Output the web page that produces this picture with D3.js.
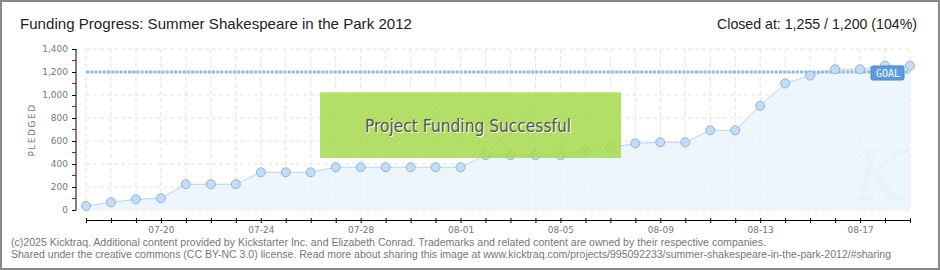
<!DOCTYPE html>
<html>
<head>
    <title>Funding Progress: Summer Shakespeare in the Park 2012</title>
    <script src="https://d3js.org/d3.v7.min.js"></script>
    <style>
        body { margin: 0; background: #fff; }
        svg { display: block; }
        .title { font-family: "Liberation Sans", Arial, sans-serif; font-size: 15px; fill: #222; }
        .axis text { font-family: "DejaVu Sans", sans-serif; font-size: 9px; fill: #777; }
        .footer { font-family: "Liberation Sans", Arial, sans-serif; font-size: 10px; fill: #777; }
        .grid line { stroke: #e2e2e2; stroke-dasharray: 4,3; }
    </style>
</head>
<body>
    <svg width="940" height="270"></svg>
    <script>
        // data
        var dates = ["07-17","07-18","07-19","07-20","07-21","07-22","07-23","07-24","07-25","07-26",
                     "07-27","07-28","07-29","07-30","07-31","08-01","08-02","08-03","08-04","08-05",
                     "08-06","08-07","08-08","08-09","08-10","08-11","08-12","08-13","08-14","08-15",
                     "08-16","08-17","08-18","08-19"];
        var pledged = [35, 67, 93, 102, 224, 224, 224, 328, 328, 328,
                       372, 372, 372, 372, 372, 372, 476, 476, 476, 476,
                       523, 540, 580, 589, 589, 693, 693, 906, 1101, 1169,
                       1224, 1224, 1255, 1255];
        var labelDates = ["07-20","07-24","07-28","08-01","08-05","08-09","08-13","08-17"];
        var yTicks = [0, 200, 400, 600, 800, 1000, 1200, 1400];
        var yMinorTicks = [100, 300, 500, 700, 900, 1100, 1300];
        var goal = 1200;
        var closedAt = 1255;

        var svg = d3.select("svg");

        var x = d3.scalePoint().domain(dates).range([86, 910]);
        var y = d3.scaleLinear().domain([0, 1400]).range([210, 49]);

        // frame
        svg.append("rect")
            .attr("x", 1).attr("y", 1).attr("width", 938).attr("height", 268)
            .attr("fill", "none").attr("stroke", "#888").attr("stroke-width", 2);

        // title + closed text
        svg.append("text").attr("class", "title")
            .attr("x", 20).attr("y", 29)
            .attr("textLength", 392).attr("lengthAdjust", "spacingAndGlyphs")
            .text("Funding Progress: Summer Shakespeare in the Park 2012");

        var fmt = d3.format(",");
        svg.append("text").attr("class", "title")
            .attr("x", 717).attr("y", 29)
            .attr("textLength", 200).attr("lengthAdjust", "spacingAndGlyphs")
            .text("Closed at:  " + fmt(closedAt) + " /  " + fmt(goal) + " (" + Math.floor(closedAt / goal * 100) + "%)");

        // green hatch pattern
        var defs = svg.append("defs");
        var pat = defs.append("pattern")
            .attr("id", "hatch").attr("patternUnits", "userSpaceOnUse")
            .attr("width", 4).attr("height", 4)
            .attr("patternTransform", "rotate(45)");
        pat.append("rect").attr("width", 4).attr("height", 4).attr("fill", "#a9dc52");
        pat.append("line").attr("x1", 0).attr("y1", 0).attr("x2", 0).attr("y2", 4)
            .attr("stroke", "#9fd248").attr("stroke-width", 1.5);

        // grid
        svg.append("g").attr("class", "grid")
            .selectAll("line.v").data(dates).enter().append("line")
            .attr("x1", d => x(d)).attr("x2", d => x(d))
            .attr("y1", y(1400)).attr("y2", y(0));
        svg.append("g").attr("class", "grid")
            .selectAll("line.h").data(yTicks).enter().append("line")
            .attr("x1", x(dates[0])).attr("x2", x(dates[dates.length - 1]))
            .attr("y1", d => y(d)).attr("y2", d => y(d));

        // area + line
        var rows = dates.map((d, i) => ({date: d, value: pledged[i]}));
        svg.append("path").datum(rows)
            .attr("fill", "#eaf3fd").attr("fill-opacity", 0.85)
            .attr("d", d3.area().x(d => x(d.date)).y0(y(0)).y1(d => y(d.value)));

        // faint K watermark
        svg.append("text")
            .attr("x", 880).attr("y", 200)
            .attr("text-anchor", "middle")
            .attr("font-family", "DejaVu Serif").attr("font-style", "italic")
            .attr("font-size", 70).attr("fill", "#e6eef8").attr("opacity", 0.5)
            .text("K");

        svg.append("path").datum(rows)
            .attr("fill", "none").attr("stroke", "#b6d3f2").attr("stroke-width", 1)
            .attr("d", d3.line().x(d => x(d.date)).y(d => y(d.value)));

        // goal line
        svg.append("line")
            .attr("x1", x(dates[0])).attr("x2", x(dates[dates.length - 1]))
            .attr("y1", y(goal)).attr("y2", y(goal))
            .attr("stroke", "#97b9e0").attr("stroke-width", 3)
            .attr("stroke-dasharray", "3,1.2");

        // points
        svg.append("g").selectAll("circle").data(rows).enter().append("circle")
            .attr("cx", d => x(d.date)).attr("cy", d => y(d.value))
            .attr("r", 4.5)
            .attr("fill", "#c3dcf6").attr("stroke", "#93b3d8").attr("stroke-width", 1);

        // goal badge
        svg.append("rect")
            .attr("x", 871).attr("y", y(goal) - 6).attr("width", 33).attr("height", 14)
            .attr("rx", 2).attr("fill", "#5b9be0").attr("stroke", "#4a88d0");
        svg.append("text")
            .attr("x", 876).attr("y", y(goal) + 5)
            .attr("font-family", "DejaVu Sans Mono, monospace").attr("font-size", 10)
            .attr("fill", "#fff")
            .text("GOAL");

        // success banner
        svg.append("rect")
            .attr("x", 320).attr("y", 92).attr("width", 301).attr("height", 66)
            .attr("fill", "url(#hatch)").attr("opacity", 0.86);
        svg.append("line")
            .attr("x1", 320).attr("x2", 621).attr("y1", 92.5).attr("y2", 92.5)
            .attr("stroke", "#c4ec80");
        svg.append("text")
            .attr("x", 469).attr("y", 133)
            .attr("text-anchor", "middle")
            .attr("font-family", "DejaVu Sans, sans-serif").attr("font-size", 17)
            .attr("fill", "#fff")
            .attr("textLength", 206).attr("lengthAdjust", "spacingAndGlyphs")
            .text("Project Funding Successful");
        svg.append("text")
            .attr("x", 468).attr("y", 132)
            .attr("text-anchor", "middle")
            .attr("font-family", "DejaVu Sans, sans-serif").attr("font-size", 17)
            .attr("fill", "#555")
            .attr("textLength", 206).attr("lengthAdjust", "spacingAndGlyphs")
            .text("Project Funding Successful");

        // y axis
        var yAxis = svg.append("g").attr("class", "axis")
            .attr("transform", "translate(76,0)")
            .call(d3.axisLeft(y).tickValues(yTicks).tickSize(4).tickPadding(4).tickFormat(fmt));
        yAxis.select(".domain").attr("stroke", "#000").attr("d", "M0," + (y(1400)) + "V" + y(0));
        yAxis.selectAll(".tick line").attr("stroke", "#000");
        yAxis.selectAll("line.minor").data(yMinorTicks).enter().append("line")
            .attr("class", "minor")
            .attr("x1", -4).attr("x2", 0)
            .attr("y1", d => y(d)).attr("y2", d => y(d))
            .attr("stroke", "#e00");

        svg.append("text")
            .attr("transform", "translate(35,130) rotate(-90)")
            .attr("text-anchor", "middle")
            .attr("font-family", "DejaVu Sans, sans-serif").attr("font-size", 9)
            .attr("letter-spacing", 1.5)
            .attr("fill", "#777")
            .text("PLEDGED");

        // x axis
        var xAxis = svg.append("g").attr("class", "axis")
            .attr("transform", "translate(0,220)")
            .call(d3.axisBottom(x).tickSizeInner(3).tickSizeOuter(0).tickPadding(4)
                .tickFormat(d => labelDates.indexOf(d) >= 0 ? d : ""));
        xAxis.select(".domain").attr("stroke", "#000");
        xAxis.selectAll(".tick line").attr("stroke", "#000").attr("y1", -2).attr("y2", 3);

        // footer
        svg.append("text").attr("class", "footer")
            .attr("x", 11).attr("y", 246)
            .attr("textLength", 755).attr("lengthAdjust", "spacingAndGlyphs")
            .text("(c)2025 Kicktraq. Additional content provided by Kickstarter Inc. and Elizabeth Conrad. Trademarks and related content are owned by their respective companies.");
        svg.append("text").attr("class", "footer")
            .attr("x", 11).attr("y", 258)
            .attr("textLength", 880).attr("lengthAdjust", "spacingAndGlyphs")
            .text("Shared under the creative commons (CC BY-NC 3.0) license. Read more about sharing this image at www.kicktraq.com/projects/995092233/summer-shakespeare-in-the-park-2012/#sharing");
    </script>
</body>
</html>
